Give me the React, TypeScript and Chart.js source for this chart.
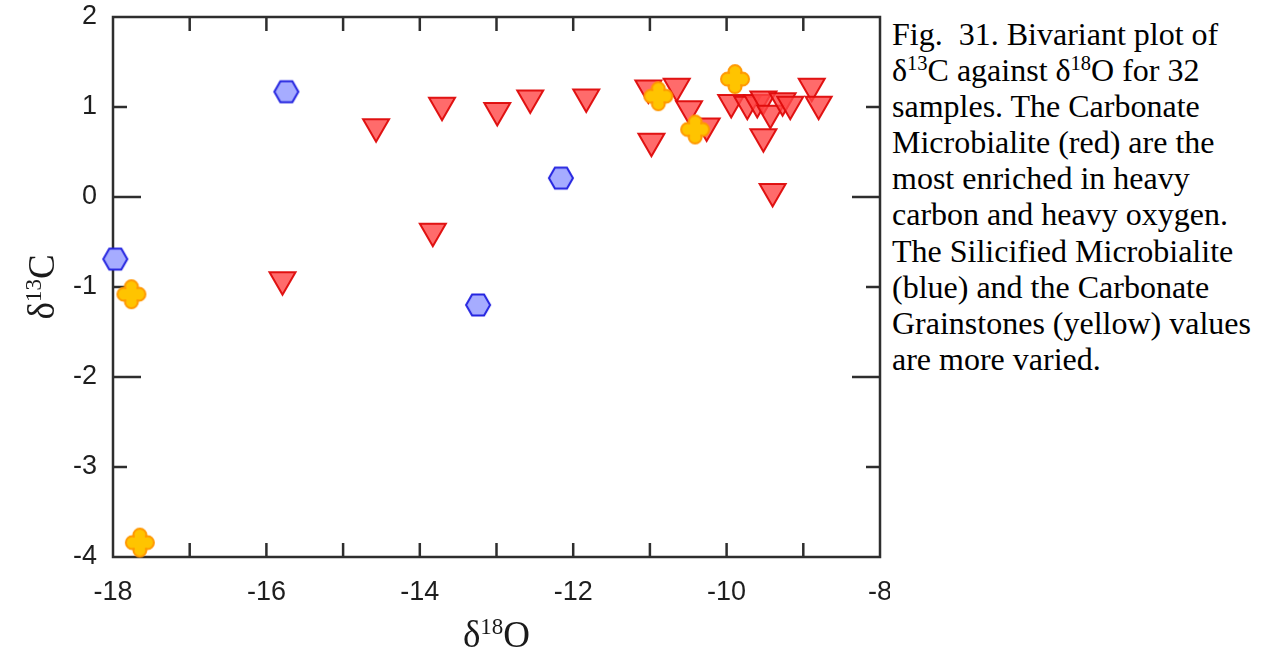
import React, { useEffect, useRef } from "react";
import { Chart, registerables } from "chart.js";

Chart.register(...registerables);

// δ18O (x) and δ13C (y) for each facies
const microbialiteO = [
  -14.57, -13.71, -12.99, -12.56, -11.83, -11.02, -10.65, -10.49, -10.26, -10.98,
  -9.94, -9.73, -9.6, -9.52, -9.43, -9.27, -9.17, -8.89, -8.8, -9.52, -9.4,
  -13.83, -15.79,
];
const microbialiteC = [
  0.78, 1.02, 0.96, 1.1, 1.11, 1.21, 1.23, 0.98, 0.79, 0.62,
  1.05, 1.03, 1.05, 1.09, 0.93, 1.07, 1.03, 1.23, 1.03, 0.67, 0.06,
  -0.38, -0.92,
];
const silicifiedO = [-15.74, -17.97, -12.16, -13.24];
const silicifiedC = [1.17, -0.69, 0.21, -1.2];
const grainstoneO = [-17.76, -17.65, -10.89, -10.41, -9.89];
const grainstoneC = [-1.08, -3.84, 1.12, 0.75, 1.31];

const X_MIN = -18;
const X_MAX = -8;
const Y_MIN = -4;
const Y_MAX = 2;

const captionLines: React.ReactNode[] = [
  "Fig.\u00a0 31. Bivariant plot of",
  <>δ<Sup>13</Sup>C against δ<Sup>18</Sup>O for 32</>,
  "samples. The Carbonate",
  "Microbialite (red) are the",
  "most enriched in heavy",
  "carbon and heavy oxygen.",
  "The Silicified Microbialite",
  "(blue) and the Carbonate",
  "Grainstones (yellow) values",
  "are more varied.",
];

function Sup({ children }: { children: React.ReactNode }) {
  return (
    <span style={{ fontSize: "0.64em", verticalAlign: "0.55em", lineHeight: 0 }}>{children}</span>
  );
}

function toPoints(xs: number[], ys: number[]) {
  return xs.map((x, i) => ({ x, y: ys[i] }));
}

function makeHexagon(): HTMLCanvasElement {
  const c = document.createElement("canvas");
  c.width = 28;
  c.height = 26;
  const g = c.getContext("2d")!;
  const cx = 14, cy = 13, r = 12;
  g.beginPath();
  for (let i = 0; i < 6; i++) {
    const a = (Math.PI / 3) * i;
    const px = cx + r * Math.cos(a);
    const py = cy + r * Math.sin(a);
    if (i === 0) g.moveTo(px, py);
    else g.lineTo(px, py);
  }
  g.closePath();
  g.fillStyle = "#a6acff";
  g.fill();
  g.lineWidth = 2;
  g.strokeStyle = "#2424e0";
  g.stroke();
  return c;
}

function makeCross(): HTMLCanvasElement {
  const c = document.createElement("canvas");
  c.width = 32;
  c.height = 32;
  const g = c.getContext("2d")!;
  const m = 16, w = 6.5, L = 14, k = 0.75;
  g.beginPath();
  g.moveTo(m - w, m - L + w);
  g.arc(m, m - L + w, w, Math.PI, 0);
  g.quadraticCurveTo(m + w * k, m - w * k, m + L - w, m - w);
  g.arc(m + L - w, m, w, -Math.PI / 2, Math.PI / 2);
  g.quadraticCurveTo(m + w * k, m + w * k, m + w, m + L - w);
  g.arc(m, m + L - w, w, 0, Math.PI);
  g.quadraticCurveTo(m - w * k, m + w * k, m - L + w, m + w);
  g.arc(m - L + w, m, w, Math.PI / 2, (3 * Math.PI) / 2);
  g.quadraticCurveTo(m - w * k, m - w * k, m - w, m - L + w);
  g.closePath();
  g.fillStyle = "#ffc400";
  g.fill();
  g.lineWidth = 2;
  g.strokeStyle = "#ff9800";
  g.stroke();
  return c;
}

type Part = [string, number, number];

// draws text made of pieces (text, font size, rise) centred on 0 along the baseline
function drawParts(ctx: CanvasRenderingContext2D, parts: Part[]) {
  let total = 0;
  const widths = parts.map(([t, s]) => {
    ctx.font = `${s}px "Liberation Serif", "Times New Roman", serif`;
    const w = ctx.measureText(t).width;
    total += w;
    return w;
  });
  let x = -total / 2;
  parts.forEach(([t, s, rise], i) => {
    ctx.font = `${s}px "Liberation Serif", "Times New Roman", serif`;
    ctx.fillText(t, x, -rise);
    x += widths[i];
  });
}

const framePlugin = {
  id: "frameTicksTitles",
  beforeDatasetsDraw(chart: any) {
    const { ctx, chartArea: a, scales } = chart;
    ctx.save();
    ctx.strokeStyle = "#2e2e2e";
    ctx.lineWidth = 2.5;
    ctx.lineCap = "butt";
    const seg = (x1: number, y1: number, x2: number, y2: number) => {
      ctx.beginPath();
      ctx.moveTo(x1, y1);
      ctx.lineTo(x2, y2);
      ctx.stroke();
    };
    for (let v = X_MIN + 1; v < X_MAX; v += 1) {
      const px = scales.x.getPixelForValue(v);
      seg(px, a.bottom, px, a.bottom - 14);
      seg(px, a.top, px, a.top + 14);
    }
    for (let v = Y_MIN + 1; v < Y_MAX; v += 1) {
      const py = scales.y.getPixelForValue(v);
      const len = v % 2 === 0 ? 28 : 14;
      seg(a.left, py, a.left + len, py);
      seg(a.right, py, a.right - len, py);
    }
    ctx.strokeRect(a.left, a.top, a.right - a.left, a.bottom - a.top);
    ctx.restore();
  },
  afterDraw(chart: any) {
    const { ctx, chartArea: a } = chart;
    ctx.save();
    ctx.fillStyle = "#1a1a1a";
    ctx.textBaseline = "alphabetic";
    // x title
    ctx.save();
    ctx.translate((a.left + a.right) / 2, 647);
    drawParts(ctx, [["δ", 37, 0], ["18", 23, 13], ["O", 37, 0]]);
    ctx.restore();
    // y title
    ctx.save();
    ctx.translate(54, (a.top + a.bottom) / 2);
    ctx.rotate(-Math.PI / 2);
    drawParts(ctx, [["δ", 37, 0], ["13", 23, 13], ["C", 37, 0]]);
    ctx.restore();
    ctx.restore();
  },
};

export default function App() {
  const canvasRef = useRef<HTMLCanvasElement | null>(null);

  useEffect(() => {
    const canvas = canvasRef.current;
    if (!canvas) return;
    const hexagon = makeHexagon();
    const cross = makeCross();
    const tickFont = { family: '"Liberation Sans", Arial, sans-serif', size: 27 };

    const chart = new Chart(canvas, {
      type: "scatter",
      data: {
        datasets: [
          {
            label: "Carbonate Grainstones",
            data: toPoints(grainstoneO, grainstoneC),
            pointStyle: cross as any,
            pointRadius: 15,
            clip: false as any,
          },
          {
            label: "Silicified Microbialite",
            data: toPoints(silicifiedO, silicifiedC),
            pointStyle: hexagon as any,
            pointRadius: 13,
            clip: false as any,
          },
          {
            label: "Carbonate Microbialite",
            data: toPoints(microbialiteO, microbialiteC),
            pointStyle: "triangle",
            rotation: 180,
            pointRadius: 15,
            backgroundColor: "rgba(255, 70, 70, 0.8)",
            borderColor: "rgba(222, 10, 10, 0.95)",
            borderWidth: 2,
            clip: false as any,
          },
        ],
      },
      options: {
        animation: false,
        responsive: false,
        maintainAspectRatio: false,
        locale: "en-US",
        layout: { autoPadding: false, padding: { left: 0, top: 17, right: 10, bottom: 0 } },
        plugins: { legend: { display: false }, tooltip: { enabled: false } },
        scales: {
          x: {
            type: "linear",
            min: X_MIN,
            max: X_MAX,
            grid: { display: false },
            border: { display: false },
            ticks: { stepSize: 2, font: tickFont, color: "#1e1e1e", padding: 11, maxRotation: 0 },
            afterFit: (s: any) => {
              s.height = 98;
              s.paddingLeft = 0;
              s.paddingRight = 0;
            },
          },
          y: {
            type: "linear",
            min: Y_MIN,
            max: Y_MAX,
            grid: { display: false },
            border: { display: false },
            ticks: { stepSize: 1, font: tickFont, color: "#1e1e1e", padding: 8 },
            afterFit: (s: any) => {
              s.width = 113;
              s.paddingTop = 0;
              s.paddingBottom = 0;
            },
          },
        },
      },
      plugins: [framePlugin],
    });
    return () => chart.destroy();
  }, []);

  return (
    <div
      style={{
        position: "fixed",
        left: 0,
        top: 0,
        width: 1263,
        height: 655,
        overflow: "hidden",
        background: "#fff",
      }}
    >
      <canvas
        ref={canvasRef}
        width={890}
        height={655}
        style={{ position: "absolute", left: 0, top: 0, width: 890, height: 655 }}
      />
      <div
        style={{
          position: "absolute",
          left: 892,
          top: 16,
          fontFamily: '"Liberation Serif", "Times New Roman", serif',
          fontSize: 32,
          lineHeight: "36.1px",
          color: "#000",
        }}
      >
        {captionLines.map((line, i) => (
          <div key={i} style={{ whiteSpace: "nowrap" }}>
            {line}
          </div>
        ))}
      </div>
    </div>
  );
}
